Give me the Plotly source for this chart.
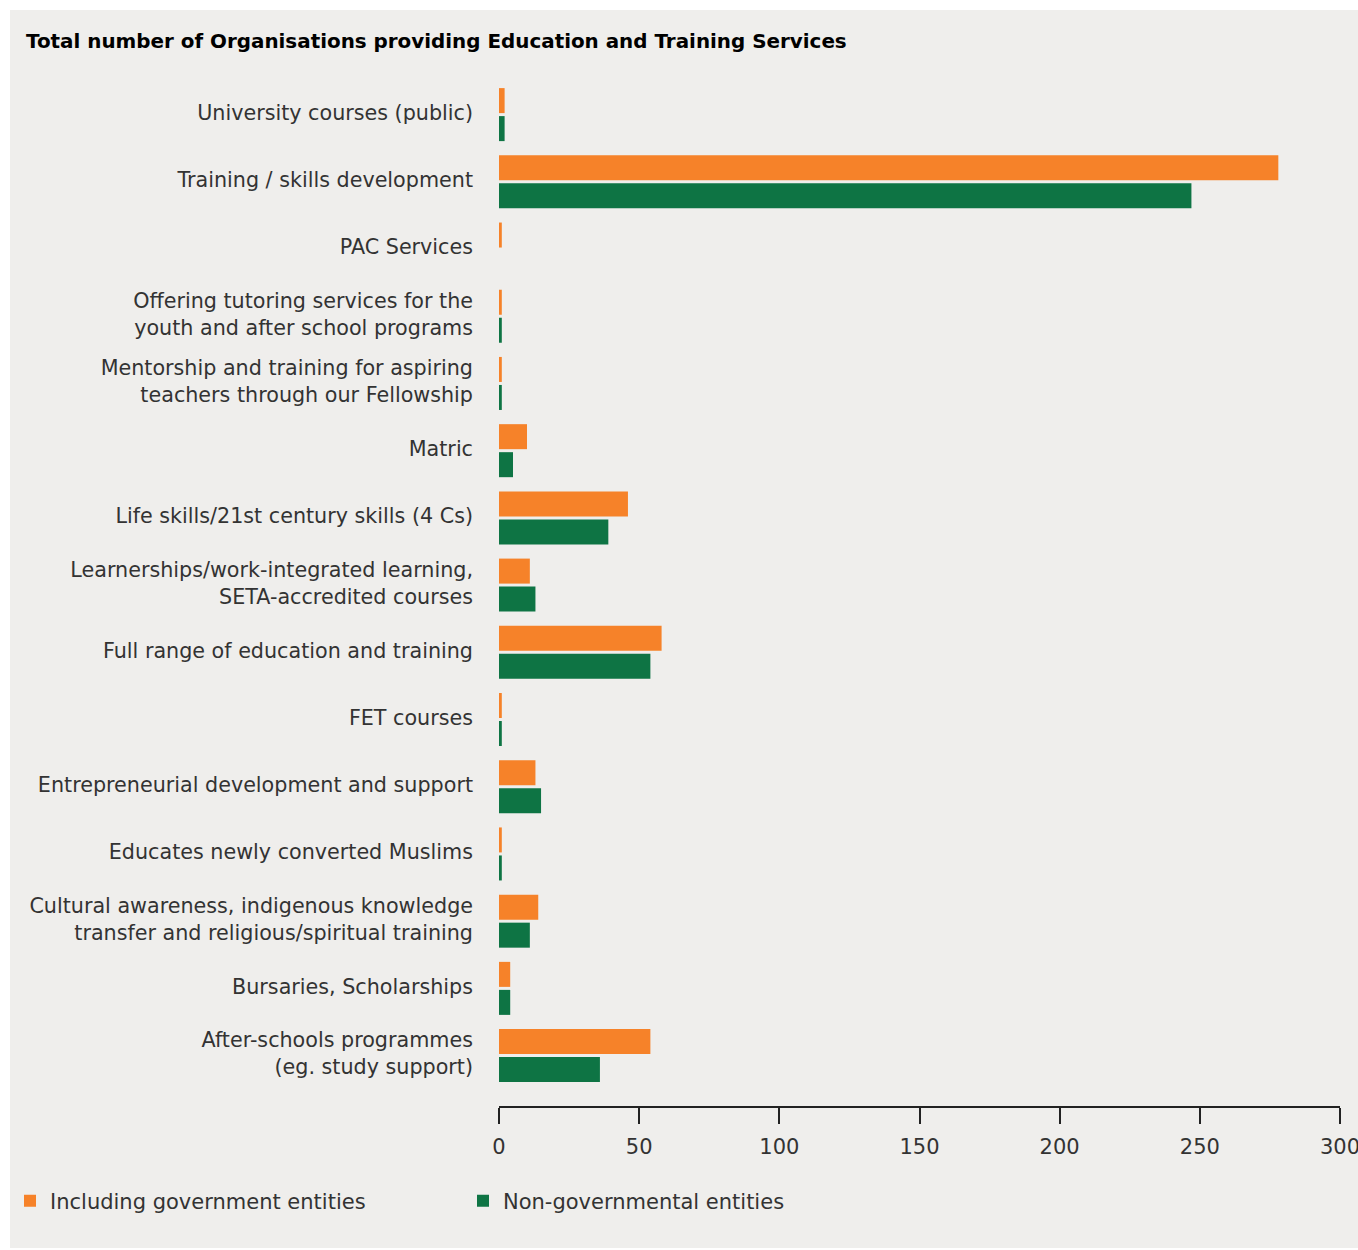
import plotly.graph_objects as go

# ---- data -------------------------------------------------------------
categories = [
    "University courses (public)",
    "Training / skills development",
    "PAC Services",
    "Offering tutoring services for the<br>youth and after school programs",
    "Mentorship and training for aspiring<br>teachers through our Fellowship",
    "Matric",
    "Life skills/21st century skills (4 Cs)",
    "Learnerships/work-integrated learning,<br>SETA-accredited courses",
    "Full range of education and training",
    "FET courses",
    "Entrepreneurial development and support",
    "Educates newly converted Muslims",
    "Cultural awareness, indigenous knowledge<br>transfer and religious/spiritual training",
    "Bursaries, Scholarships",
    "After-schools programmes<br>(eg. study support)",
]
including_government = [2, 278, 1, 1, 1, 10, 46, 11, 58, 1, 13, 1, 14, 4, 54]
non_governmental = [2, 247, 0, 1, 1, 5, 39, 13, 54, 1, 15, 1, 11, 4, 36]

series_names = ["Including government entities", "Non-governmental entities"]
x_ticks = [0, 50, 100, 150, 200, 250, 300]

title_text = "Total number of Organisations providing Education and Training Services"

# ---- style ------------------------------------------------------------
ORANGE = "#f68229"
GREEN = "#0e7444"
PANEL = "#efeeec"
TEXT = "#333333"
FONT = "DejaVu Sans"

W, H = 1358, 1250
L, R, T, B = 499, 18, 81, 144  # plot area margins in pixels

plot_w = W - L - R
plot_h = H - T - B


def px_to_paper_x(px):
    return (px - L) / plot_w


def px_to_paper_y(py):
    return (H - B - py) / plot_h


label_font = dict(family=FONT, size=20.7, color=TEXT)
tick_font = dict(family=FONT, size=21, color=TEXT)
legend_font = dict(family=FONT, size=21, color=TEXT)

fig = go.Figure()
fig.add_trace(go.Bar(
    y=categories, x=including_government, orientation="h",
    name=series_names[0], marker=dict(color=ORANGE, line=dict(width=0)),
))
fig.add_trace(go.Bar(
    y=categories, x=non_governmental, orientation="h",
    name=series_names[1], marker=dict(color=GREEN, line=dict(width=0)),
))

# grey panel with a thin white frame on the left, top and bottom
fig.add_shape(
    type="rect", xref="paper", yref="paper", layer="below",
    x0=px_to_paper_x(10), x1=px_to_paper_x(W + 20),
    y0=px_to_paper_y(1248), y1=px_to_paper_y(10),
    fillcolor=PANEL, line=dict(width=0),
)

fig.update_layout(
    width=W, height=H,
    margin=dict(l=L, r=R, t=T, b=B, pad=0, autoexpand=False),
    paper_bgcolor="white",
    plot_bgcolor=PANEL,
    barmode="group",
    bargap=0.1667,
    bargroupgap=0.107,
    font=label_font,
    title=dict(
        text=title_text,
        font=dict(family=FONT, size=19.9, color="#000000", weight=700),
        xref="container", yref="container",
        x=26 / W, xanchor="left",
        y=1 - 41 / H, yanchor="middle",
    ),
    xaxis=dict(
        range=[0, 300],
        tickvals=x_ticks,
        ticktext=[str(v) for v in x_ticks],
        showgrid=False, zeroline=False,
        showline=True, linecolor="#222222", linewidth=1.5,
        ticks="outside", ticklen=16, tickwidth=1.5, tickcolor="#222222",
        ticklabelstandoff=5,
        ticklabeloverflow="allow",
        tickfont=tick_font,
        fixedrange=True,
    ),
    yaxis=dict(
        categoryorder="array", categoryarray=categories,
        range=[14.75, -0.5],
        showgrid=False, zeroline=False, showline=False,
        ticks="", ticklabelstandoff=25, ticklabelshift=2,
        tickfont=label_font,
        fixedrange=True,
    ),
    legend=dict(
        orientation="h",
        x=px_to_paper_x(10), xanchor="left",
        y=px_to_paper_y(1201), yanchor="middle",
        bgcolor="rgba(0,0,0,0)",
        font=legend_font,
        entrywidth=408, entrywidthmode="pixels",
        traceorder="normal",
    ),
    showlegend=True,
)

fig.write_html("out.html")
